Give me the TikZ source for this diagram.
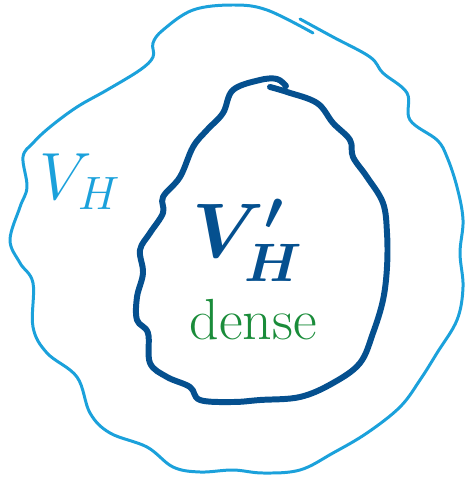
\RequirePackage{fix-cm}
\documentclass[tikz,border=0pt]{standalone}
\usepackage{xcolor}
\usepackage{tikz}

\definecolor{lightblue}{RGB}{27,161,219}
\definecolor{darkblue}{RGB}{5,80,143}
\definecolor{densegreen}{RGB}{26,140,58}

\begin{document}
\begin{tikzpicture}[
  x=0.2mm, y=-0.2mm,
  outer/.style={draw=lightblue,line width=1.7pt,line cap=round,line join=round},
  inner/.style={draw=darkblue,line width=3.4pt,line cap=round,line join=round},
  lbl/.style={inner sep=0pt,align=center}
]
\useasboundingbox (0,0) rectangle (469,480);

% V_H, the big set
\draw[outer] plot[smooth,tension=0.6] coordinates {
  (300,19) (333,37) (370,57) (383,73) (407,93) (410,120) (437,140) (447,157)
  (457,187) (463,220) (460,253) (463,287) (457,320) (437,353) (420,380)
  (400,407) (367,433) (333,453) (300,470) (263,473) (233,470) (200,472)
  (173,467) (147,447) (110,433) (90,413) (77,377) (47,353) (33,327) (33,283)
  (20,263) (10,240) (20,207) (27,187) (23,157) (33,143) (50,127) (77,107)
  (107,90) (140,70) (153,57) (153,43) (163,30) (193,10) (233,5) (267,10)
  (313,33)};

% V'_H inside
\draw[inner] plot[smooth,tension=0.6] coordinates {
  (270,87) (287,92) (317,103) (333,123) (350,140) (353,157) (367,177)
  (383,203) (387,233) (387,267) (383,300) (373,333) (360,363) (333,383)
  (300,397) (260,400) (233,402) (200,400) (190,387) (167,377) (150,363)
  (148,333) (137,320) (137,297) (143,273) (140,250) (150,233) (163,213)
  (163,197) (180,177) (193,147) (207,130) (223,113) (233,90) (260,80)
  (277,79) (286,86)};

\node[lbl,text=lightblue,font=\fontsize{38}{38}\selectfont] (vh) at (80,182) {$V_H$};
\node[lbl,text=darkblue,font=\fontsize{44}{44}\selectfont\boldmath] (vhp) at (248,240) {$V'_H$};
\node[lbl,text=densegreen,font=\fontsize{33}{33}\selectfont] (dense) at (253,320) {dense};

\end{tikzpicture}
\end{document}
